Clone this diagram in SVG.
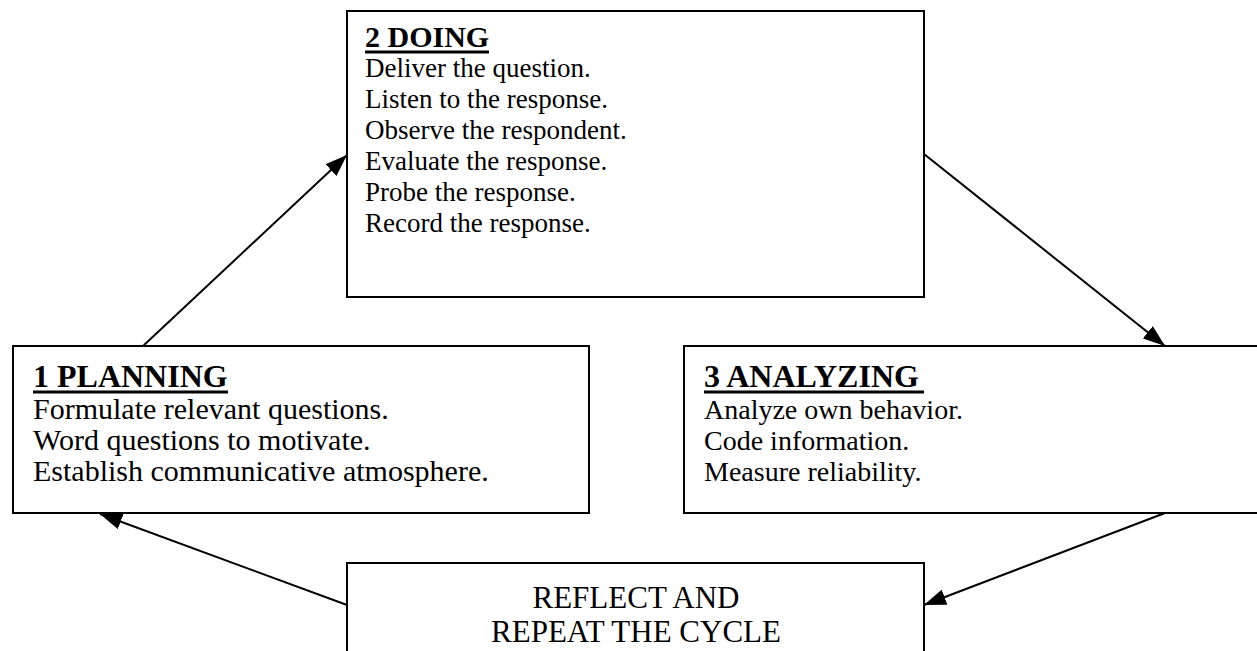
<svg xmlns="http://www.w3.org/2000/svg" width="1257" height="651" viewBox="0 0 1257 651">
<style>
.box{fill:#fff;stroke:#000;stroke-width:2}
.t{font-family:"Liberation Serif","Times New Roman",serif;fill:#000}
.h{font-weight:bold}
.s32{font-size:32px}
.s31{font-size:31px}
.s28{font-size:28px}
.s27{font-size:27px}
.s30{font-size:30px}
.ul{stroke:#000;stroke-width:3}
.conn{stroke:#000;stroke-width:2;fill:none;marker-end:url(#ah)}
</style>
<defs>
<marker id="ah" viewBox="0 0 22 16" refX="22" refY="8" markerWidth="22" markerHeight="16" markerUnits="userSpaceOnUse" orient="auto">
<path d="M0,0 L22,8 L0,16 Z" fill="#000"/>
</marker>
</defs>
<rect width="1257" height="651" fill="#fff"/>
<g id="connectors">
<line class="conn" x1="143" y1="346" x2="347" y2="155"/>
<line class="conn" x1="924" y1="154" x2="1165" y2="346"/>
<line class="conn" x1="1165" y1="513" x2="924" y2="605"/>
<line class="conn" x1="347" y1="605" x2="100" y2="514"/>
</g>
<g id="doing">
<rect class="box" x="347" y="11" width="577" height="286"/>
<text class="t h s30" x="365" y="47">2 DOING</text>
<line class="ul" x1="365" y1="52" x2="489" y2="52"/>
<text class="t s27" x="365" y="77">Deliver the question.</text>
<text class="t s27" x="365" y="108">Listen to the response.</text>
<text class="t s27" x="365" y="139">Observe the respondent.</text>
<text class="t s27" x="365" y="170">Evaluate the response.</text>
<text class="t s27" x="365" y="201">Probe the response.</text>
<text class="t s27" x="365" y="232">Record the response.</text>
</g>
<g id="planning">
<rect class="box" x="13" y="346" width="576" height="167"/>
<text class="t h s32" x="33" y="387">1 PLANNING</text>
<line class="ul" x1="33" y1="392" x2="228" y2="392"/>
<text class="t s30" x="33" y="419">Formulate relevant questions.</text>
<text class="t s30" x="33" y="450">Word questions to motivate.</text>
<text class="t s30" x="33" y="481">Establish communicative atmosphere.</text>
</g>
<g id="analyzing">
<rect class="box" x="684" y="346" width="590" height="167"/>
<text class="t h s32" x="704" y="387">3 ANALYZING</text>
<line class="ul" x1="704" y1="392" x2="924" y2="392"/>
<text class="t s28" x="704" y="419">Analyze own behavior.</text>
<text class="t s28" x="704" y="450">Code information.</text>
<text class="t s28" x="704" y="481">Measure reliability.</text>
</g>
<g id="reflect">
<rect class="box" x="347" y="563" width="577" height="100"/>
<text class="t s31" x="636" y="608" text-anchor="middle">REFLECT AND</text>
<text class="t s31" x="636" y="642" text-anchor="middle">REPEAT THE CYCLE</text>
</g>
</svg>
